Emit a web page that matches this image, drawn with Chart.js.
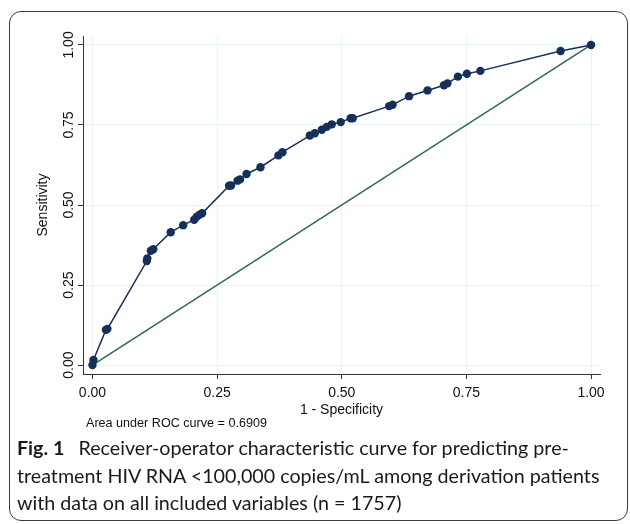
<!DOCTYPE html>
<html lang="en">
<head>
  <meta charset="UTF-8">
  <title>ROC curve</title>
  <script src="https://cdn.jsdelivr.net/npm/chart.js"></script>
  <style>
    body {
      margin: 0;
      background: #fff;
      width: 630px;
      height: 524px;
      position: relative;
      overflow: hidden;
    }

    .frame {
      position: absolute;
      left: 9px;
      top: 11px;
      width: 617px;
      height: 508px;
      border: 1.3px solid #3c3c3c;
      border-radius: 12px;
    }

    #roc {
      position: absolute;
      left: 0;
      top: 0;
    }

    .note {
      position: absolute;
      left: 86px;
      top: 416px;
      font-family: 'Liberation Sans', Arial, sans-serif;
      font-size: 12.6px;
      color: #111;
      white-space: nowrap;
    }

    .caption {
      position: absolute;
      left: 17px;
      top: 434px;
      width: 610px;
      font-family: Lato, 'Open Sans', sans-serif;
      font-size: 19.7px;
      line-height: 27.5px;
      color: #1a1a1a;
      white-space: nowrap;
    }

    .caption b {
      margin-right: 9px;
    }
  </style>
</head>
<body>
  <div class="frame"></div>
  <canvas id="roc" width="630" height="440"></canvas>
  <div class="note">Area under ROC curve = 0.6909</div>
  <div class="caption"><b>Fig. 1</b> Receiver-operator characteristic curve for predicting pre-<br>treatment HIV RNA &lt;100,000 copies/mL among derivation patients<br>with data on all included variables (n = 1757)</div>

  <script>
    // 1 - specificity and sensitivity
    const fpr = [0, 0.002, 0.027, 0.030, 0.109, 0.110, 0.117, 0.122, 0.157, 0.182,
                 0.204, 0.209, 0.214, 0.220, 0.274, 0.278, 0.291, 0.296, 0.309, 0.337,
                 0.373, 0.381, 0.436, 0.446, 0.460, 0.470, 0.480, 0.498, 0.518, 0.522,
                 0.595, 0.602, 0.635, 0.672, 0.705, 0.712, 0.733, 0.751, 0.778, 0.939, 1];
    const sens = [0, 0.016, 0.110, 0.113, 0.325, 0.333, 0.357, 0.362, 0.415, 0.437,
                  0.454, 0.463, 0.469, 0.474, 0.560, 0.561, 0.576, 0.580, 0.597, 0.618,
                  0.655, 0.665, 0.717, 0.724, 0.735, 0.744, 0.752, 0.759, 0.771, 0.771,
                  0.809, 0.813, 0.840, 0.858, 0.874, 0.880, 0.901, 0.910, 0.919, 0.981, 1];
    const refX = [0, 1];
    const refY = [0, 1];
    const tickVals = [0, 0.25, 0.5, 0.75, 1];
    const tickLabels = ['0.00', '0.25', '0.50', '0.75', '1.00'];

    const navy = '#13305d';
    const green = '#2d6b4f';
    const gridCol = '#e8f3f6';

    Chart.defaults.font.family = "'Liberation Sans', Arial, sans-serif";
    Chart.defaults.color = '#111';

    const setTicks = s => { s.ticks = tickVals.map(v => ({ value: v })); };
    const fmt = v => tickLabels[tickVals.indexOf(v)] ?? '';

    new Chart(document.getElementById('roc'), {
      type: 'scatter',
      data: {
        datasets: [{
          data: fpr.map((x, i) => ({ x: x, y: sens[i] })),
          showLine: true,
          borderColor: navy,
          backgroundColor: navy,
          borderWidth: 1.5,
          pointRadius: 4.2,
          pointBorderWidth: 0,
          order: 1
        }, {
          data: refX.map((x, i) => ({ x: x, y: refY[i] })),
          showLine: true,
          borderColor: green,
          borderWidth: 1.5,
          pointRadius: 0,
          order: 2
        }]
      },
      options: {
        responsive: false,
        animation: false,
        layout: { padding: { top: 36, right: 30, left: 0, bottom: 0 } },
        plugins: { legend: { display: false }, tooltip: { enabled: false } },
        scales: {
          x: {
            min: -0.019,
            max: 1.018,
            afterBuildTicks: setTicks,
            afterFit: s => { s.height = 66; },
            grid: { color: gridCol, tickColor: '#333', tickLength: 5, lineWidth: 1 },
            border: { color: '#333', width: 1 },
            ticks: { font: { size: 14 }, padding: 6, maxRotation: 0, callback: fmt },
            title: { display: true, text: '1 - Specificity', font: { size: 14 }, padding: { top: 0, bottom: 21 } }
          },
          y: {
            min: -0.028,
            max: 1.028,
            afterBuildTicks: setTicks,
            afterFit: s => { s.width = 83; },
            grid: { color: gridCol, tickColor: '#333', tickLength: 5, lineWidth: 1 },
            border: { color: '#333', width: 1 },
            ticks: { font: { size: 14 }, padding: -5, minRotation: 90, maxRotation: 90, crossAlign: 'center', callback: fmt },
            title: { display: true, text: 'Sensitivity', font: { size: 14 }, padding: { top: 35, bottom: 0 } }
          }
        }
      }
    });
  </script>
</body>
</html>
